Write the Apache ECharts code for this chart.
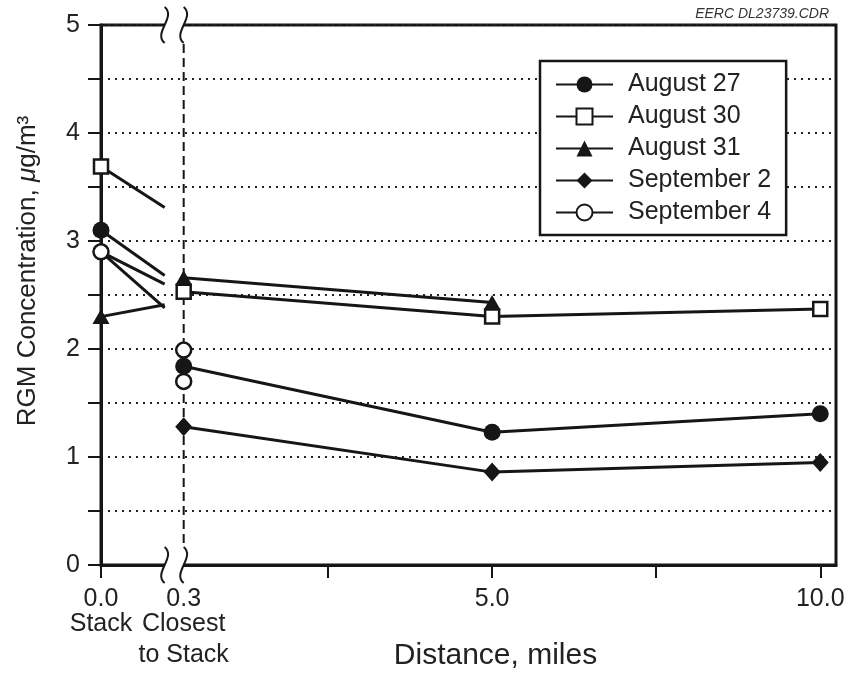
<!DOCTYPE html>
<html><head><meta charset="utf-8">
<script src="https://cdn.jsdelivr.net/npm/echarts@6/dist/echarts.min.js"></script>
<style>html,body{margin:0;padding:0;background:#fff}#c{width:844px;height:677px}</style>
</head><body><div id="c"></div>
<script>
// ---- data ----
const seriesNames = ['August 27', 'August 30', 'August 31', 'September 2', 'September 4'];
const distances = [0.0, 0.3, 5.0, 10.0];            // miles (0.0 = stack)
const xTickLabels = ['0.0', '0.3', '5.0', '10.0'];
const xSubLabels = [['Stack'], ['Closest', 'to Stack'], [], []];
const xTickMiles = [0.0, 2.5, 5.0, 7.5, 10.0];
const yTickValues = [0, 1, 2, 3, 4, 5];
const stackValues   = [3.10, 3.69, 2.30, 2.90, 2.90];   // at 0.0 mi
const stubEndValues = [2.68, 3.31, 2.41, 2.38, 2.60];   // where the stack line stops at the break
const closestValues = [[1.84], [2.53], [2.66], [1.28], [1.99, 1.70]]; // at 0.3 mi
const mile5Values   = [1.23, 2.30, 2.43, 0.86, null];
const mile10Values  = [1.40, 2.37, null, 0.95, null];

// ---- broken axis: the stack segment is drawn left of the break ----
const STACK_POS = -0.96;   // axis position of the 0.0 (stack) station
const BREAK_LEFT = 0.01;   // left edge of the axis break
const X_MAX = 10.24;
function axisPos(d) { return d === 0 ? STACK_POS : d; }

const INK = '#161616';
const FONT = '"Liberation Sans", Arial, Helvetica, sans-serif';
const markerStyles = [
  { symbol: 'circle', size: 17, fill: INK },
  { symbol: 'rect', size: 14, fill: '#fff' },
  { symbol: 'triangle', size: [17, 15], fill: INK },
  { symbol: 'diamond', size: [17, 19], fill: INK },
  { symbol: 'circle', size: 15, fill: '#fff' }
];

// each station series is split into unconnected segments
function buildSegments(i) {
  const segs = [];
  segs.push([
    [axisPos(distances[0]), stackValues[i]],
    { value: [BREAK_LEFT, stubEndValues[i]], symbol: 'none' }
  ]);
  const vals = closestValues[i];
  for (let k = 0; k < vals.length; k++) {
    const seg = [[axisPos(distances[1]), vals[k]]];
    if (k === vals.length - 1) {
      if (mile5Values[i] != null) seg.push([axisPos(distances[2]), mile5Values[i]]);
      if (mile10Values[i] != null) seg.push([axisPos(distances[3]), mile10Values[i]]);
    }
    segs.push(seg);
  }
  return segs;
}

const lineSeries = [];
seriesNames.forEach((name, i) => {
  buildSegments(i).forEach(seg => {
    lineSeries.push({
      name: name,
      type: 'line',
      z: 3,
      data: seg,
      symbol: markerStyles[i].symbol,
      symbolSize: markerStyles[i].size,
      showSymbol: true,
      showAllSymbol: true,
      lineStyle: { color: INK, width: 3 },
      itemStyle: {
        color: markerStyles[i].fill,
        borderColor: INK,
        borderWidth: markerStyles[i].fill === '#fff' ? 2.5 : 0,
        opacity: 1
      },
      emphasis: { disabled: true }
    });
  });
});

function wave(x, y) {
  return {
    type: 'bezierCurve',
    shape: { x1: x, y1: y - 18, cpx1: x + 12, cpy1: y - 8, cpx2: x - 12, cpy2: y + 8, x2: x, y2: y + 18 },
    style: { stroke: INK, lineWidth: 2, fill: null }
  };
}

const breakSeries = {
  type: 'custom',
  name: 'break',
  z: 1,
  silent: true,
  data: [[BREAK_LEFT, 0]],
  renderItem: function (params, api) {
    const xl = api.coord([BREAK_LEFT, 0])[0];
    const xr = api.coord([axisPos(distances[1]), 0])[0];
    const yb = api.coord([BREAK_LEFT, 0])[1];
    const yt = api.coord([BREAK_LEFT, 5])[1];
    return {
      type: 'group',
      children: [
        { type: 'rect', shape: { x: xl, y: yt - 4, width: xr - xl, height: 8 }, style: { fill: '#fff' } },
        { type: 'rect', shape: { x: xl, y: yb - 4, width: xr - xl, height: 8 }, style: { fill: '#fff' } },
        { type: 'line', shape: { x1: xr, y1: yt + 19, x2: xr, y2: yb - 18 },
          style: { stroke: INK, lineWidth: 2, lineDash: [9, 5] } },
        wave(xl, yt), wave(xr, yt), wave(xl, yb), wave(xr, yb)
      ]
    };
  }
};

const chart = echarts.init(document.getElementById('c'), null, { renderer: 'canvas' });
chart.setOption({
  animation: false,
  backgroundColor: '#fff',
  textStyle: { fontFamily: FONT },
  title: {
    text: 'EERC DL23739.CDR',
    right: 10, top: 2,
    textStyle: { fontFamily: FONT, fontSize: 14, fontStyle: 'italic', fontWeight: 'normal', color: '#333' }
  },
  grid: {
    left: 101, right: 8, top: 25, bottom: 112,
    containLabel: false, outerBoundsMode: 'none',
    show: true, borderColor: INK, borderWidth: 3, backgroundColor: 'transparent'
  },
  legend: {
    data: seriesNames,
    orient: 'vertical',
    left: 540, top: 61,
    padding: [11, 15, 10, 15],
    itemGap: 7,
    itemWidth: 57, itemHeight: 20,
    backgroundColor: '#fff',
    borderColor: INK, borderWidth: 2.5, borderRadius: 0,
    textStyle: { fontFamily: FONT, fontSize: 25, color: '#222', padding: [0, 0, 0, 10] },
    selectedMode: false
  },
  xAxis: {
    type: 'value',
    min: STACK_POS, max: X_MAX,
    name: 'Distance, miles',
    nameLocation: 'middle',
    nameGap: 76,
    nameMoveOverlap: false,
    nameTextStyle: { fontFamily: FONT, fontSize: 30, color: '#222', padding: [0, 0, 0, 54] },
    axisLine: { show: true, onZero: false, lineStyle: { color: INK, width: 3 } },
    axisTick: { show: true, inside: false, length: 13, lineStyle: { color: INK, width: 2 },
      customValues: xTickMiles.map(axisPos) },
    axisLabel: {
      show: true, margin: 25, showMinLabel: true, showMaxLabel: true,
      customValues: distances.map(axisPos),
      formatter: function (v) {
        const i = distances.findIndex(d => Math.abs(axisPos(d) - v) < 1e-6);
        if (i < 0) return '';
        let s = '{n|' + xTickLabels[i] + '}';
        xSubLabels[i].forEach(w => { s += '\n{w|' + w + '}'; });
        return s;
      },
      rich: {
        n: { fontFamily: FONT, fontSize: 25, color: '#222', lineHeight: 19 },
        w: { fontFamily: FONT, fontSize: 25, color: '#222', lineHeight: 31 }
      }
    },
    splitLine: { show: false }
  },
  yAxis: {
    type: 'value',
    min: 0, max: 5, interval: 0.5,
    name: '{a|RGM Concentration, }{i|\u03bc}{a|g/m\u00b3}',
    nameLocation: 'middle',
    nameRotate: 90,
    nameGap: 60,
    nameMoveOverlap: false,
    nameTextStyle: {
      padding: [0, 0, 0, 48],
      rich: {
        a: { fontFamily: FONT, fontSize: 26, color: '#222' },
        i: { fontFamily: FONT, fontSize: 26, color: '#222', fontStyle: 'italic' }
      }
    },
    axisLine: { show: true, onZero: false, lineStyle: { color: INK, width: 3 } },
    axisTick: { show: true, inside: false, length: 13, lineStyle: { color: INK, width: 2 } },
    axisLabel: {
      margin: 21, fontFamily: FONT, fontSize: 25, color: '#222',
      formatter: function (v) { return yTickValues.indexOf(v) >= 0 ? String(v) : ''; }
    },
    splitLine: { show: true, lineStyle: { color: '#222', width: 2, type: [2, 5] } }
  },
  series: [breakSeries].concat(lineSeries)
});
</script>
</body></html>
